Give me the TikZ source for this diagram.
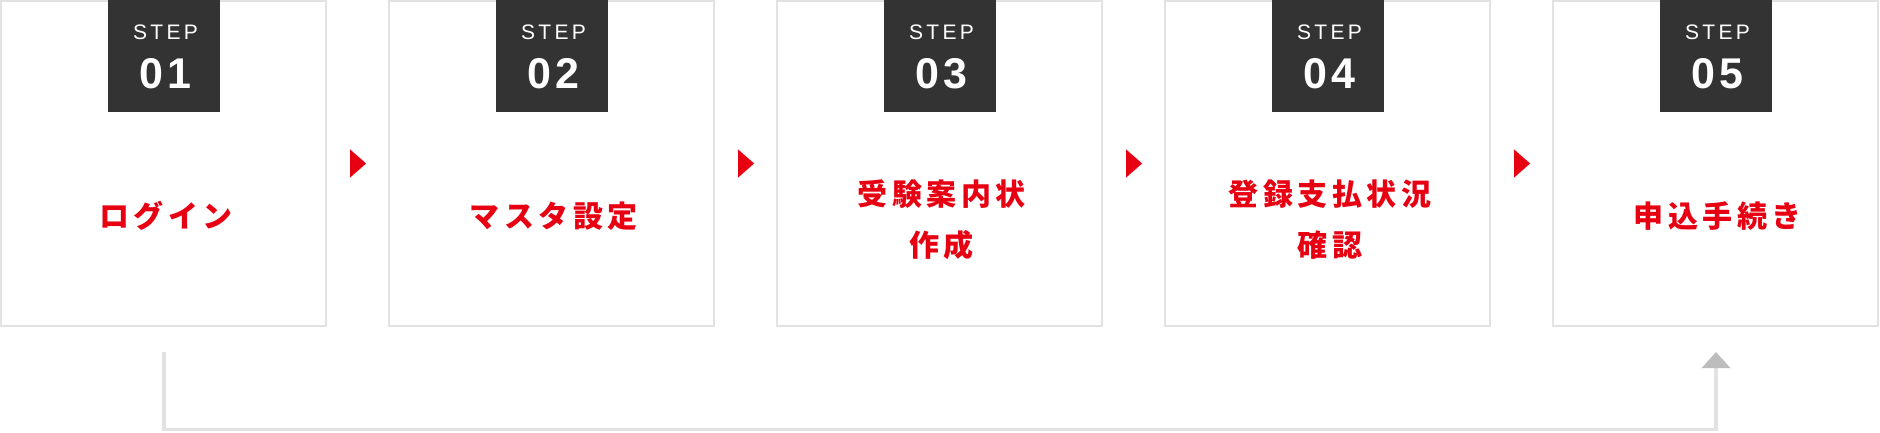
\documentclass[tikz,border=0pt]{standalone}
\usepackage{fontspec}
\usetikzlibrary{arrows.meta}
\newfontfamily\jpfont[LetterSpace=15]{Noto Sans CJK JP}
\newfontfamily\stepfont[LetterSpace=16]{Liberation Sans}
\newfontfamily\numfont[LetterSpace=8]{Liberation Sans}
\definecolor{stepred}{HTML}{E60012}
\definecolor{tabgray}{HTML}{333333}
\definecolor{framegray}{HTML}{E2E2E2}
\definecolor{tipgray}{HTML}{BDBDBD}
\newcommand\labelfont{\jpfont\bfseries\fontsize{30}{51}\selectfont}

\begin{document}
\begin{tikzpicture}[x=1pt,y=-1pt]
  \useasboundingbox (0,0) rectangle (1880,432);

        \begin{scope}[every node/.style={draw=framegray,line width=2pt,minimum size=325pt,inner sep=0pt}]
          \node (1) at (163.5,163.5)  {};
          \node (2) at (551.5,163.5)  {};
          \node (3) at (939.5,163.5)  {};
          \node (4) at (1327.5,163.5) {};
          \node (5) at (1715.5,163.5) {};
        \end{scope}

        \begin{scope}[every node/.style={fill=tabgray,minimum size=112pt,inner sep=0pt}]
          \node (t1) at (164,56)  {};
          \node (t2) at (552,56)  {};
          \node (t3) at (940,56)  {};
          \node (t4) at (1328,56) {};
          \node (t5) at (1716,56) {};
        \end{scope}

        \begin{scope}[every node/.style={text=white,anchor=base,inner sep=0pt,xshift=1.5pt}]
          \node (s1) at ([yshift=17pt]t1.center) {\stepfont\fontsize{21}{21}\selectfont STEP};
          \node (s2) at ([yshift=17pt]t2.center) {\stepfont\fontsize{21}{21}\selectfont STEP};
          \node (s3) at ([yshift=17pt]t3.center) {\stepfont\fontsize{21}{21}\selectfont STEP};
          \node (s4) at ([yshift=17pt]t4.center) {\stepfont\fontsize{21}{21}\selectfont STEP};
          \node (s5) at ([yshift=17pt]t5.center) {\stepfont\fontsize{21}{21}\selectfont STEP};
          \node (n1) at ([yshift=-32pt]t1.center) {\numfont\bfseries\fontsize{43}{43}\selectfont 01};
          \node (n2) at ([yshift=-32pt]t2.center) {\numfont\bfseries\fontsize{43}{43}\selectfont 02};
          \node (n3) at ([yshift=-32pt]t3.center) {\numfont\bfseries\fontsize{43}{43}\selectfont 03};
          \node (n4) at ([yshift=-32pt]t4.center) {\numfont\bfseries\fontsize{43}{43}\selectfont 04};
          \node (n5) at ([yshift=-32pt]t5.center) {\numfont\bfseries\fontsize{43}{43}\selectfont 05};
        \end{scope}

        \begin{scope}[every node/.style={text=stepred,align=center,inner sep=0pt,xshift=2.25pt,font=\labelfont}]
          \node (l1) at (163.5,216)   {ログイン};
          \node (l2) at (551.5,216)   {マスタ設定};
          \node (l3) at (939.5,219.5) {受験案内状\\作成};
          \node (l4) at (1327.5,219.5){登録支払状況\\確認};
          \node (l5) at (1715.5,216)  {申込手続き};
        \end{scope}

        \begin{scope}[every path/.style={draw=stepred,line width=0.01pt,shorten <=23pt,shorten >=22pt,-{Triangle[length=16pt,width=28pt]}}]
          \path (1) edge (2);
          \path (2) edge (3);
          \path (3) edge (4);
          \path (4) edge (5);
        \end{scope}

        \coordinate (r1) at (164,352);
        \coordinate (r5) at (1716,352);
        \draw[framegray,line width=3.5pt,-{Triangle[length=16pt,width=28pt,color=tipgray]}] (r1) -- ++(0,77.5) -| (r5);

      \end{tikzpicture}
\end{document}
